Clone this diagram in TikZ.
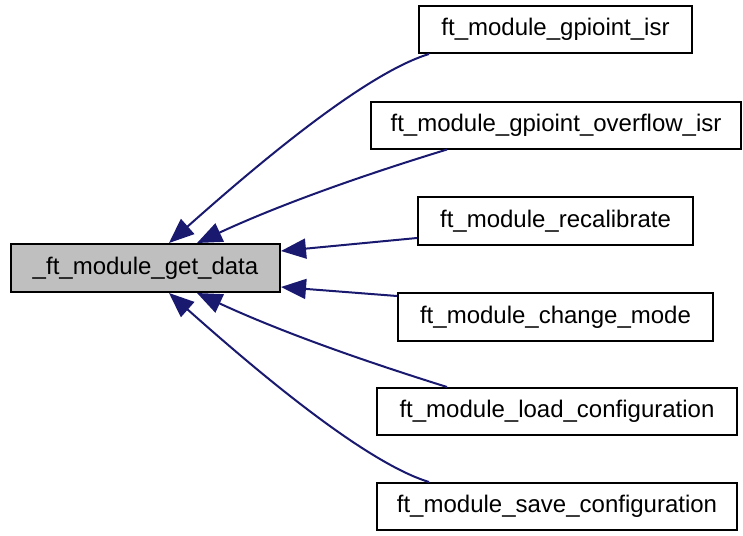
\documentclass[tikz,border=0pt]{standalone}
\usepackage{fontspec}
\setmainfont{Liberation Sans}
\usetikzlibrary{arrows.meta,calc}
\definecolor{edgeblue}{HTML}{191970}
\definecolor{nodegray}{HTML}{BFBFBF}
\tikzset{
  fn/.style={draw=black, line width=2pt, fill=white, inner sep=0pt, font=\fontsize{24}{28}\selectfont, minimum height=47pt},
  edge/.style={draw=edgeblue, line width=2pt, -{Triangle[length=25pt,width=20pt]}},
}
\begin{document}
\begin{tikzpicture}[x=1pt,y=-1pt]
\useasboundingbox (0,0) rectangle (743,535);
\node[fn, fill=nodegray, minimum width=269pt, minimum height=48pt] (g) at (145.5,268) {\_ft\_module\_get\_data};
\node[fn, minimum width=273pt] (n1) at (555.5,29.5) {ft\_module\_gpioint\_isr};
\node[fn, minimum width=370pt] (n2) at (556,125) {ft\_module\_gpioint\_overflow\_isr};
\node[fn, minimum width=275pt, minimum height=48pt] (n3) at (555.5,221) {ft\_module\_recalibrate};
\node[fn, minimum width=315pt, minimum height=48pt] (n4) at (555.5,317) {ft\_module\_change\_mode};
\node[fn, minimum width=360pt] (n5) at (557,411.5) {ft\_module\_load\_configuration};
\node[fn, minimum width=360pt] (n6) at (557,506.5) {ft\_module\_save\_configuration};

\draw[edge] ($(n1.south west)+(11,0)$) .. controls (360,75) and (240,180) .. ($(g.north west)+(159,0)$);
\draw[edge] ($(n2.south west)+(77,0)$) .. controls (380,170) and (290,200) .. ($(g.north west)+(187,0)$);
\draw[edge] ($(n3.south west)+(0,-8)$) -- ($(g.north east)+(0,8)$);
\draw[edge] ($(n4.north west)+(0,4)$) -- ($(g.south east)+(0,-6)$);
\draw[edge] ($(n5.north west)+(71,0)$) .. controls (380,366) and (290,336) .. ($(g.south west)+(187,0)$);
\draw[edge] ($(n6.north west)+(53,0)$) .. controls (360,461) and (240,356) .. ($(g.south west)+(159,0)$);
\end{tikzpicture}
\end{document}
